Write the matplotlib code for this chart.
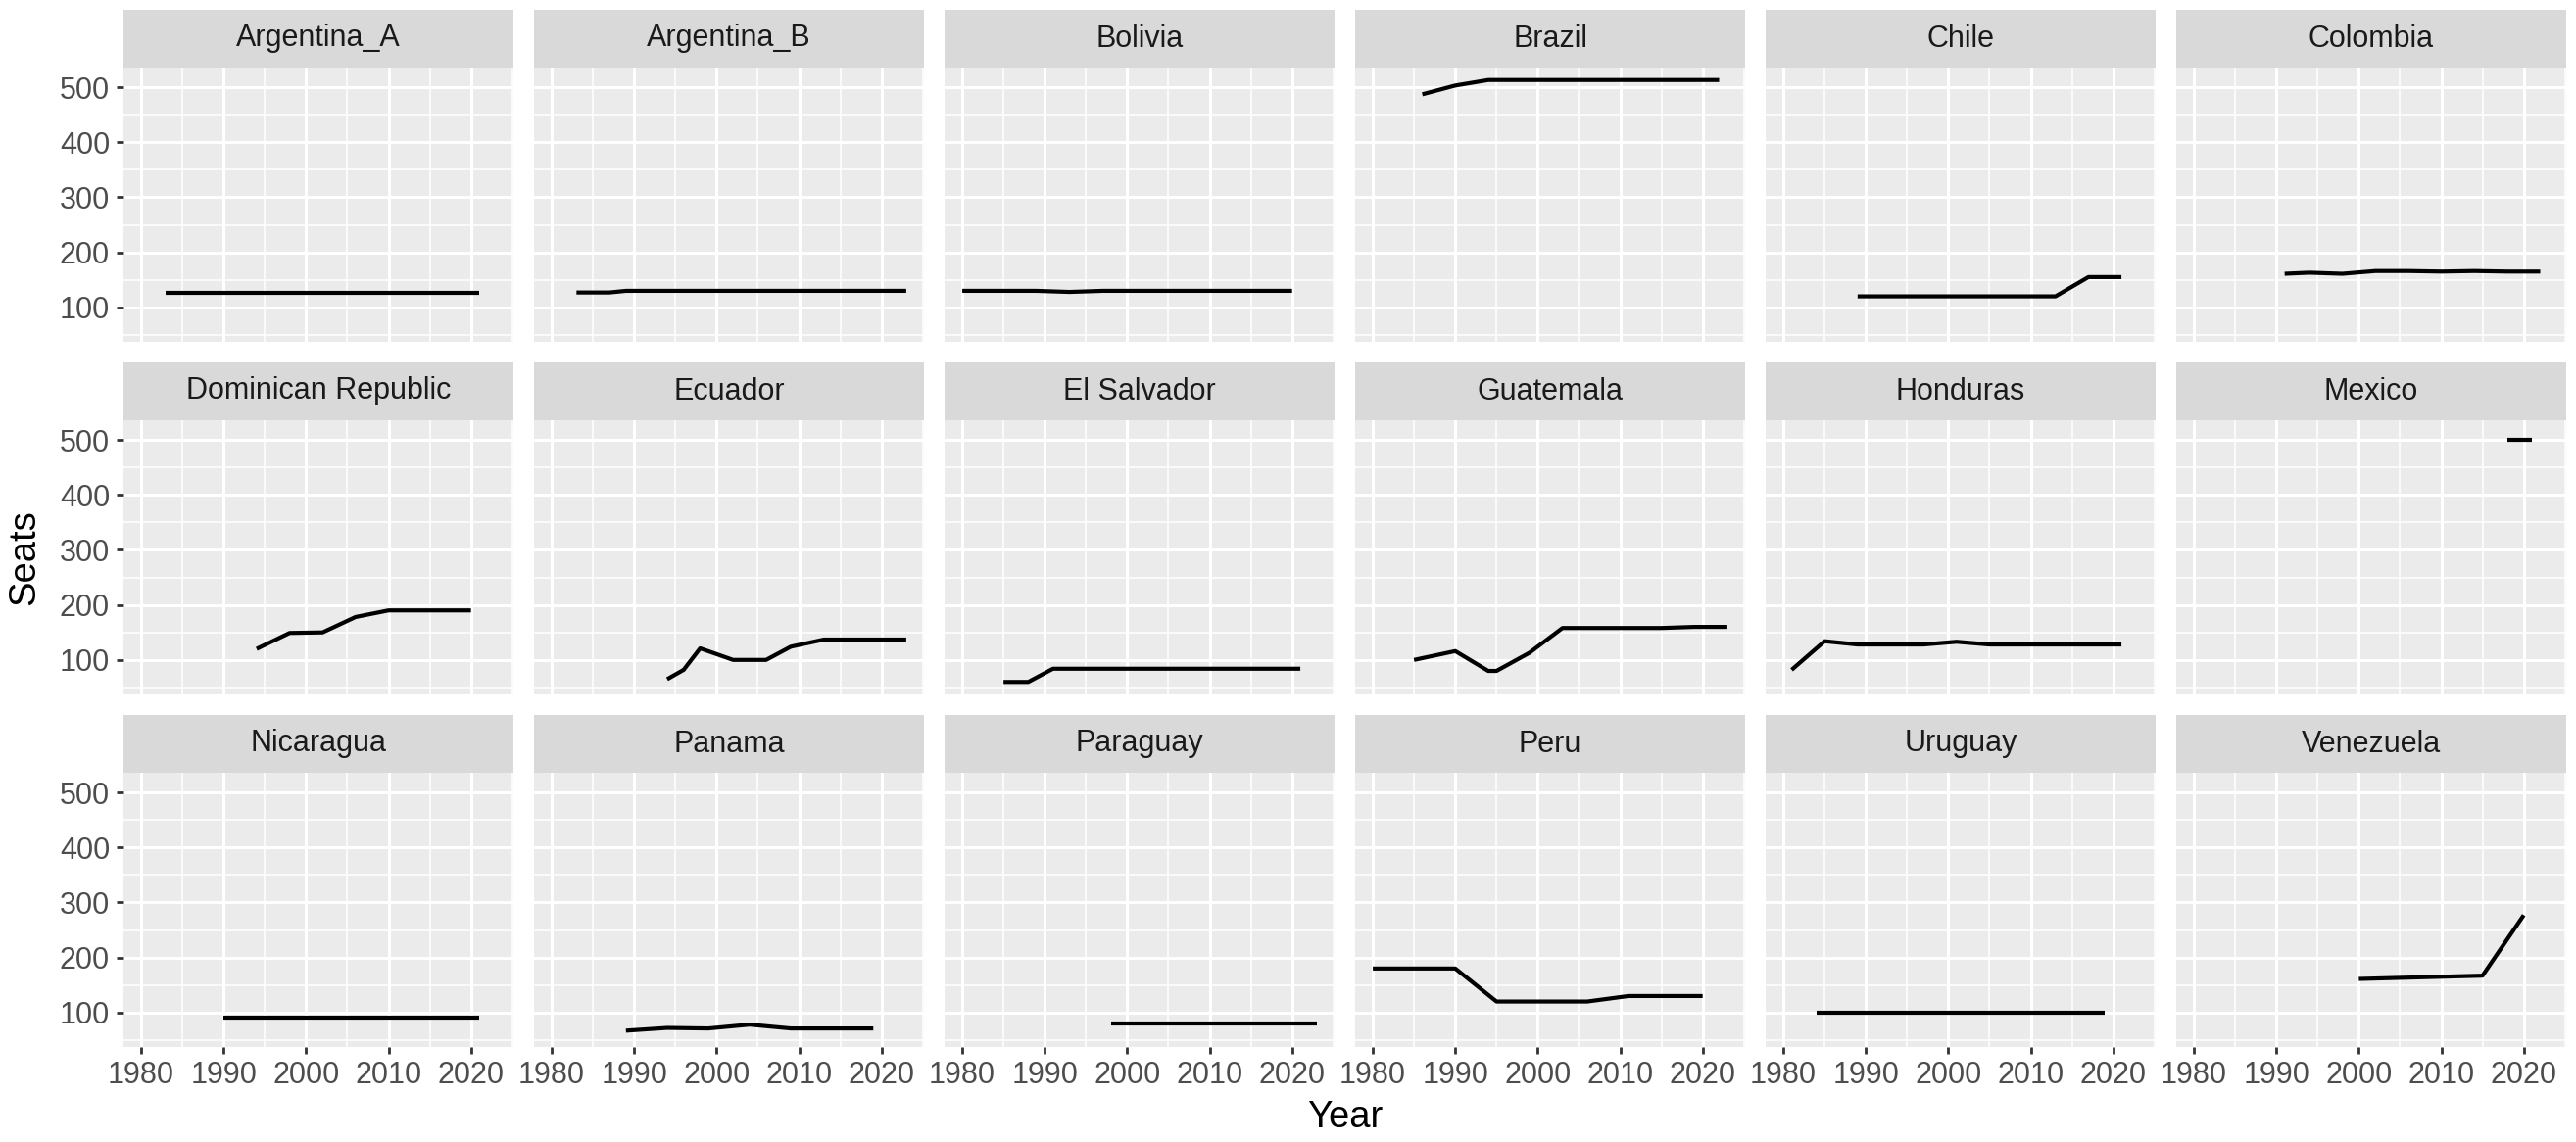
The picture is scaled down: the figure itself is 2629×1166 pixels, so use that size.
import matplotlib.pyplot as plt
from matplotlib.ticker import MultipleLocator

plt.rcParams['font.family'] = ['Liberation Sans', 'DejaVu Sans']

# seats in the lower chamber by election year
countries = ['Argentina_A', 'Argentina_B', 'Bolivia', 'Brazil', 'Chile', 'Colombia',
             'Dominican Republic', 'Ecuador', 'El Salvador', 'Guatemala', 'Honduras', 'Mexico',
             'Nicaragua', 'Panama', 'Paraguay', 'Peru', 'Uruguay', 'Venezuela']

arg_a_years = [1983, 1987, 1991, 1995, 1999, 2003, 2007, 2011, 2015, 2019, 2021]
arg_a_seats = [127, 127, 127, 127, 127, 127, 127, 127, 127, 127, 127]
arg_b_years = [1983, 1985, 1987, 1989, 1993, 1997, 2001, 2005, 2009, 2013, 2017, 2023]
arg_b_seats = [127, 127, 127, 130, 130, 130, 130, 130, 130, 130, 130, 130]
bolivia_years = [1980, 1985, 1989, 1993, 1997, 2002, 2005, 2009, 2014, 2020]
bolivia_seats = [130, 130, 130, 128, 130, 130, 130, 130, 130, 130]
brazil_years = [1986, 1990, 1994, 1998, 2002, 2006, 2010, 2014, 2018, 2022]
brazil_seats = [487, 503, 513, 513, 513, 513, 513, 513, 513, 513]
chile_years = [1989, 1993, 1997, 2001, 2005, 2009, 2013, 2017, 2021]
chile_seats = [120, 120, 120, 120, 120, 120, 120, 155, 155]
colombia_years = [1991, 1994, 1998, 2002, 2006, 2010, 2014, 2018, 2022]
colombia_seats = [161, 163, 161, 166, 166, 165, 166, 165, 165]
dominican_years = [1994, 1998, 2002, 2006, 2010, 2016, 2020]
dominican_seats = [120, 149, 150, 178, 190, 190, 190]
ecuador_years = [1994, 1996, 1998, 2002, 2006, 2009, 2013, 2017, 2021, 2023]
ecuador_seats = [65, 82, 121, 100, 100, 124, 137, 137, 137, 137]
salvador_years = [1985, 1988, 1991, 1994, 1997, 2000, 2003, 2006, 2009, 2012, 2015, 2018, 2021]
salvador_seats = [60, 60, 84, 84, 84, 84, 84, 84, 84, 84, 84, 84, 84]
guatemala_years = [1985, 1990, 1994, 1995, 1999, 2003, 2007, 2011, 2015, 2019, 2023]
guatemala_seats = [100, 116, 80, 80, 113, 158, 158, 158, 158, 160, 160]
honduras_years = [1981, 1985, 1989, 1993, 1997, 2001, 2005, 2009, 2013, 2017, 2021]
honduras_seats = [82, 134, 128, 128, 128, 133, 128, 128, 128, 128, 128]
mexico_years = [2018, 2021]
mexico_seats = [500, 500]
nicaragua_years = [1990, 1996, 2001, 2006, 2011, 2016, 2021]
nicaragua_seats = [91, 91, 91, 91, 91, 91, 91]
panama_years = [1989, 1994, 1999, 2004, 2009, 2014, 2019]
panama_seats = [67, 72, 71, 78, 71, 71, 71]
paraguay_years = [1998, 2003, 2008, 2013, 2018, 2023]
paraguay_seats = [80, 80, 80, 80, 80, 80]
peru_years = [1980, 1985, 1990, 1995, 2000, 2001, 2006, 2011, 2016, 2020]
peru_seats = [180, 180, 180, 120, 120, 120, 120, 130, 130, 130]
uruguay_years = [1984, 1989, 1994, 1999, 2004, 2009, 2014, 2019]
uruguay_seats = [99, 99, 99, 99, 99, 99, 99, 99]
venezuela_years = [2000, 2005, 2010, 2015, 2020]
venezuela_seats = [161, 163, 165, 167, 277]

series = [(arg_a_years, arg_a_seats), (arg_b_years, arg_b_seats), (bolivia_years, bolivia_seats),
          (brazil_years, brazil_seats), (chile_years, chile_seats), (colombia_years, colombia_seats),
          (dominican_years, dominican_seats), (ecuador_years, ecuador_seats),
          (salvador_years, salvador_seats), (guatemala_years, guatemala_seats),
          (honduras_years, honduras_seats), (mexico_years, mexico_seats),
          (nicaragua_years, nicaragua_seats), (panama_years, panama_seats),
          (paraguay_years, paraguay_seats), (peru_years, peru_seats),
          (uruguay_years, uruguay_seats), (venezuela_years, venezuela_seats)]

# shared scales with ggplot's 5% expansion
all_x = [x for s in series for x in s[0]]
all_y = [y for s in series for y in s[1]]
xr = max(all_x) - min(all_x)
yr = max(all_y) - min(all_y)
xlim = (min(all_x) - 0.05 * xr, max(all_x) + 0.05 * xr)
ylim = (min(all_y) - 0.05 * yr, max(all_y) + 0.05 * yr)

W, H = 2629, 1166
fig = plt.figure(figsize=(W / 100, H / 100), dpi=100)

left0, pw, gap = 126, 398, 21
top0, strip_h, ph = 10, 59, 280
ncol = 6

for i, name in enumerate(countries):
    r, c = divmod(i, ncol)
    x0 = left0 + c * (pw + gap)
    st = top0 + r * (strip_h + ph + gap)

    ax = fig.add_axes([x0 / W, 1 - (st + strip_h + ph) / H, pw / W, ph / H])
    ax.set_facecolor('#EBEBEB')
    for sp in ax.spines.values():
        sp.set_visible(False)
    ax.set_xlim(xlim)
    ax.set_ylim(ylim)
    ax.xaxis.set_major_locator(MultipleLocator(10))
    ax.xaxis.set_minor_locator(MultipleLocator(5))
    ax.yaxis.set_major_locator(MultipleLocator(100))
    ax.yaxis.set_minor_locator(MultipleLocator(50))
    ax.set_yticks([100, 200, 300, 400, 500])
    ax.grid(which='major', color='white', lw=2.2)
    ax.grid(which='minor', color='white', lw=1.1)
    ax.set_axisbelow(True)
    ax.tick_params(which='minor', length=0)
    ax.tick_params(which='major', length=5, width=2.0, color='#333333',
                   labelsize=22, labelcolor='#4D4D4D', pad=5)
    if c != 0:
        ax.tick_params(left=False, labelleft=False)
    if r != 2:
        ax.tick_params(bottom=False, labelbottom=False)

    xs, ys = series[i]
    ax.plot(xs, ys, color='black', lw=3.0, solid_capstyle='butt')

    sax = fig.add_axes([x0 / W, 1 - (st + strip_h) / H, pw / W, strip_h / H])
    sax.set_facecolor('#D9D9D9')
    sax.set_xticks([])
    sax.set_yticks([])
    for sp in sax.spines.values():
        sp.set_visible(False)
    sax.text(0.5, 0.5, name, ha='center', va='center', fontsize=22, color='#1A1A1A',
             transform=sax.transAxes)

right = left0 + ncol * pw + (ncol - 1) * gap
fig.text((left0 + right) / 2 / W, 1 - 1141 / H, 'Year', ha='center', va='center', fontsize=27.5)
fig.text(25 / W, 1 - 569 / H, 'Seats', ha='center', va='center', rotation=90, fontsize=27.5)

fig.savefig('out.png', dpi=100)
